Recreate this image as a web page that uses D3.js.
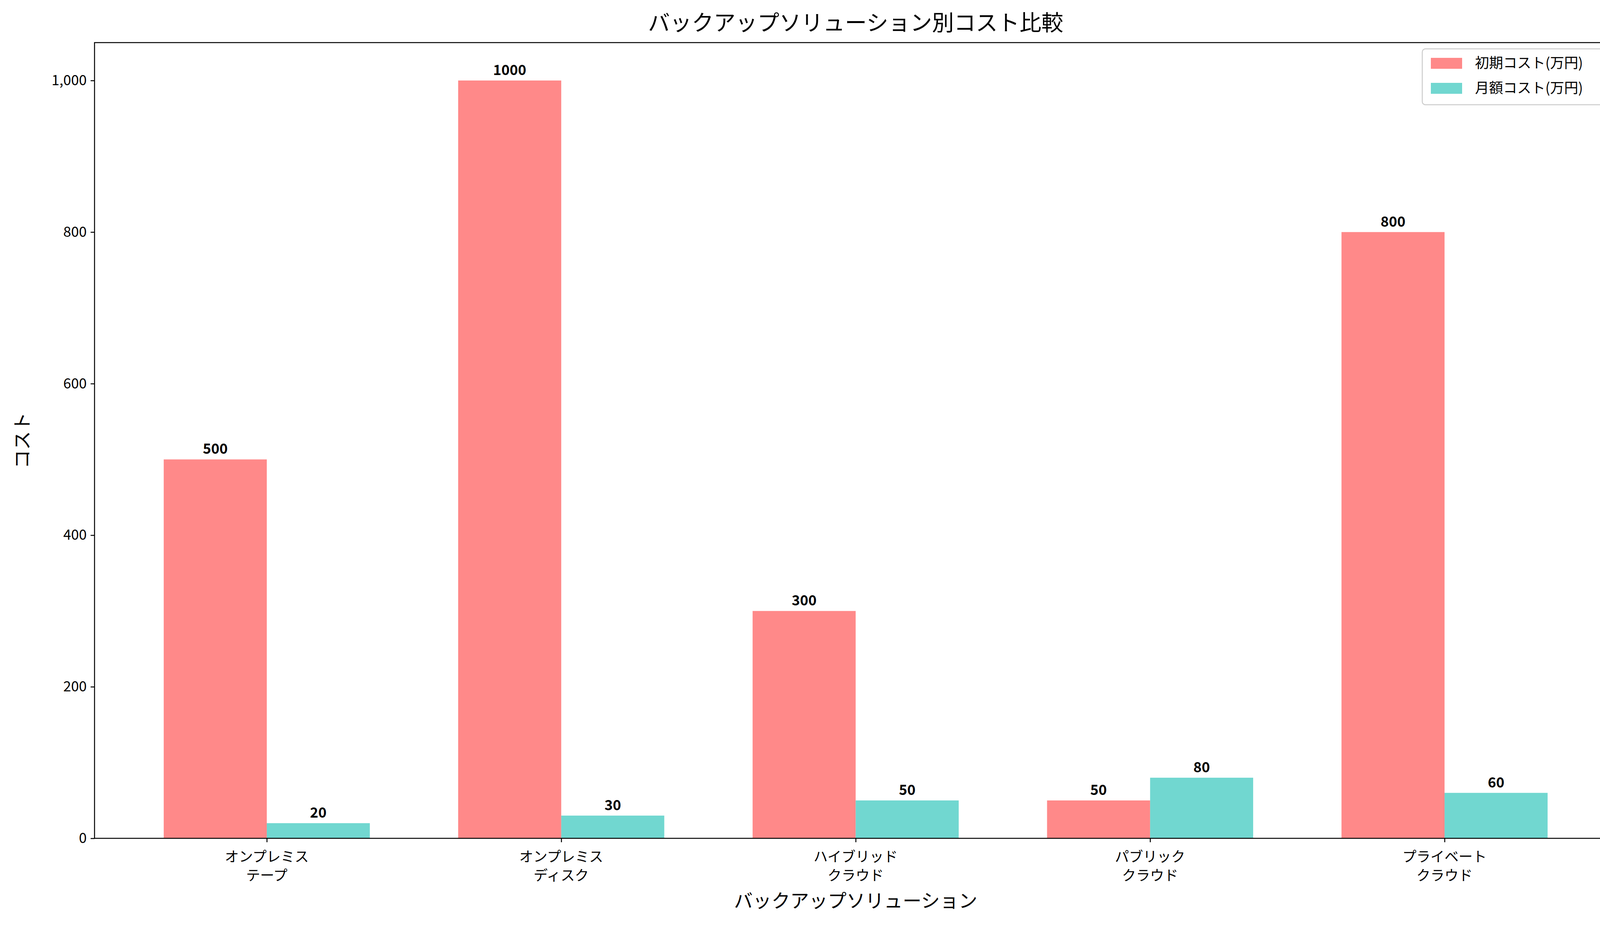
<!DOCTYPE html>
<html><head><meta charset="utf-8">
<script src="https://cdn.jsdelivr.net/npm/d3@7"></script>
<style>body{margin:0;background:#fff}text{font-family:"Noto Sans CJK JP","DejaVu Sans",sans-serif}</style>
</head><body>
<svg id="c" width="4168" height="2377"></svg>
<script>
const categories = [["オンプレミス","テープ"],["オンプレミス","ディスク"],["ハイブリッド","クラウド"],["パブリック","クラウド"],["プライベート","クラウド"]];
const initialCost = [500,1000,300,50,800];
const monthlyCost = [20,30,50,80,60];
const yTicks = [0,200,400,600,800,1000];
const seriesNames = ["初期コスト(万円)","月額コスト(万円)"];
const colors = ["#FF6B6B","#4ECDC4"];

const svg = d3.select("#c");
const L=242,R=4139,T=109,B=2145;
const x = d3.scaleLinear().domain([-0.585,4.585]).range([L,R]);
const y = d3.scaleLinear().domain([0,1050]).range([B,T]);
const bw = x(0.35)-x(0);

[initialCost,monthlyCost].forEach((arr,s)=>{
  svg.append("g").selectAll("rect").data(arr).join("rect")
    .attr("x",(d,i)=>x(i)+(s===0?-bw:0)).attr("y",d=>y(d))
    .attr("width",bw).attr("height",d=>B-y(d))
    .attr("fill",colors[s]).attr("fill-opacity",0.8);
  svg.append("g").selectAll("text").data(arr).join("text")
    .attr("x",(d,i)=>x(i)+(s===0?-bw/2:bw/2)).attr("y",d=>y(d)-14)
    .attr("text-anchor","middle").attr("font-weight","bold").attr("font-size",36).text(d=>d);
});

svg.append("rect").attr("x",L).attr("y",T).attr("width",R-L).attr("height",B-T)
  .attr("fill","none").attr("stroke","#000").attr("stroke-width",2.5);

const ya = svg.append("g").attr("transform",`translate(${L},0)`)
  .call(d3.axisLeft(y).tickValues(yTicks).tickSize(10).tickPadding(10));
ya.select(".domain").remove();
ya.selectAll("line").attr("stroke-width",2.5);
ya.selectAll("text").attr("font-size",36).attr("font-family","DejaVu Sans");

const xa = svg.append("g").attr("transform",`translate(0,${B})`)
  .call(d3.axisBottom(x).tickValues(d3.range(categories.length)).tickSize(10).tickFormat(""));
xa.select(".domain").remove();
xa.selectAll("line").attr("stroke-width",2.5);
categories.forEach((c,i)=>{
  c.forEach((t,j)=>svg.append("text").attr("x",x(i)).attr("y",2205+j*48)
    .attr("text-anchor","middle").attr("font-size",36).text(t));
});

svg.append("text").attr("x",(L+R)/2).attr("y",2322).attr("text-anchor","middle").attr("font-size",48).text("バックアップソリューション");
svg.append("text").attr("transform",`translate(74,${(T+B)/2}) rotate(-90)`).attr("text-anchor","middle").attr("font-size",48).text("コスト");
svg.append("text").attr("x",(L+R)/2).attr("y",78).attr("text-anchor","middle").attr("font-size",56).text("バックアップソリューション別コスト比較");

const lg = svg.append("g");
lg.append("rect").attr("x",3641).attr("y",125).attr("width",479).attr("height",143).attr("rx",8)
  .attr("fill","#fff").attr("fill-opacity",0.8).attr("stroke","#ccc").attr("stroke-width",2.5);
seriesNames.forEach((n,i)=>{
  lg.append("rect").attr("x",3663).attr("y",148+i*64).attr("width",80).attr("height",28)
    .attr("fill",colors[i]).attr("fill-opacity",0.8);
  lg.append("text").attr("x",3776).attr("y",174+i*64).attr("font-size",36).text(n);
});
</script>
</body></html>
